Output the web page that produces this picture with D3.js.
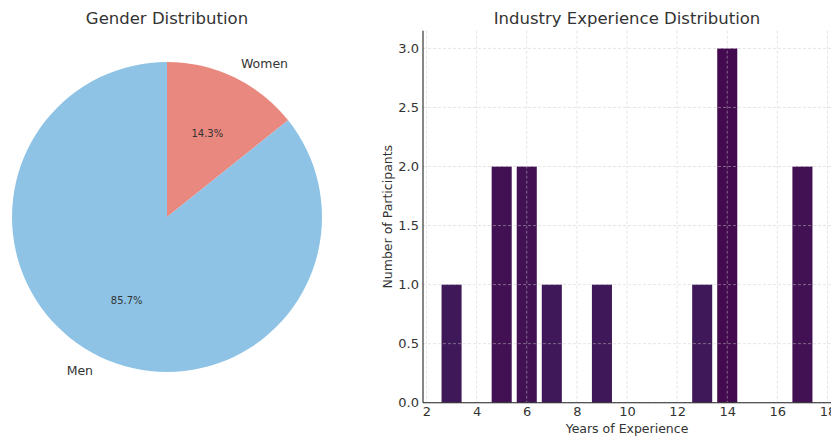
<!DOCTYPE html>
<html>
<head>
<meta charset="utf-8">
<script src="https://cdn.jsdelivr.net/npm/d3@7"></script>
<style>
  body { margin: 0; background: #fff; }
  svg { font-family: "DejaVu Sans", sans-serif; }
</style>
</head>
<body>
<div id="chart"></div>
<script>
// Gender pie data
const genderLabels = ['Men', 'Women'];
const genderCounts = [6, 1];
const genderColors = ['#8ec3e6', '#e9887f'];

// Experience histogram data
const years = [3, 5, 6, 7, 9, 13, 14, 17];
const participants = [1, 2, 2, 1, 1, 1, 3, 2];
const xTicks = [2, 4, 6, 8, 10, 12, 14, 16, 18];
const yTicks = [0, 0.5, 1, 1.5, 2, 2.5, 3];

const W = 831, H = 437;
const textColor = '#333';

const svg = d3.select('#chart').append('svg')
    .attr('width', W)
    .attr('height', H);

// ---- Pie ----
const cx = 167, cy = 217, R = 155;
const pieG = svg.append('g').attr('transform', `translate(${cx},${cy})`);

// women slice first from the top going clockwise, men fill the rest
const total = d3.sum(genderCounts);
const womenAngle = genderCounts[1] / total * 2 * Math.PI;
const slices = [
    { label: genderLabels[1], value: genderCounts[1], color: genderColors[1], start: 0, end: womenAngle },
    { label: genderLabels[0], value: genderCounts[0], color: genderColors[0], start: womenAngle, end: 2 * Math.PI }
];

const arc = d3.arc().innerRadius(0).outerRadius(R);
pieG.selectAll('path')
    .data(slices)
    .enter()
    .append('path')
    .attr('d', d => arc({ startAngle: d.start, endAngle: d.end }))
    .attr('fill', d => d.color);

slices.forEach(d => {
    const mid = (d.start + d.end) / 2;
    const sx = Math.sin(mid), sy = -Math.cos(mid);
    pieG.append('text')
        .attr('x', sx * R * 1.1)
        .attr('y', sy * R * 1.1)
        .attr('dy', '0.35em')
        .attr('text-anchor', sx > 0 ? 'start' : 'end')
        .style('font-size', '12.5px')
        .style('fill', textColor)
        .text(d.label);
    pieG.append('text')
        .attr('x', sx * R * 0.6)
        .attr('y', sy * R * 0.6)
        .attr('dy', '0.35em')
        .attr('text-anchor', 'middle')
        .style('font-size', '10px')
        .style('fill', textColor)
        .text((d.value / total * 100).toFixed(1) + '%');
});

svg.append('text')
    .attr('x', cx)
    .attr('y', 24)
    .attr('text-anchor', 'middle')
    .style('font-size', '16.5px')
    .style('fill', textColor)
    .text('Gender Distribution');

// ---- Bar chart ----
const plot = { left: 423, right: 831, top: 30.7, bottom: 402.7 };
const barW = 0.8;
const x = d3.scaleLinear()
    .domain([d3.min(years) - barW / 2 - 0.74, d3.max(years) + barW / 2 + 0.74])
    .range([plot.left, plot.right]);
const y = d3.scaleLinear()
    .domain([0, 3.15])
    .range([plot.bottom, plot.top]);

const barG = svg.append('g');
barG.selectAll('rect')
    .data(years)
    .enter()
    .append('rect')
    .attr('x', (d) => x(d - barW / 2))
    .attr('width', x(barW) - x(0))
    .attr('y', (d, i) => y(participants[i]))
    .attr('height', (d, i) => y(0) - y(participants[i]))
    .attr('fill', (d, i) => d3.interpolateRgb('#3e1858', '#440a4f')((participants[i] - 1) / 2));

// grid drawn over the bars, faint dashed
const grid = svg.append('g');
grid.selectAll('.gx')
    .data(xTicks)
    .enter()
    .append('line')
    .attr('x1', d => x(d)).attr('x2', d => x(d))
    .attr('y1', plot.top).attr('y2', plot.bottom)
    .attr('stroke', '#c8c8c8')
    .attr('stroke-opacity', 0.6)
    .attr('stroke-width', 0.8)
    .attr('stroke-dasharray', '3,2');
grid.selectAll('.gy')
    .data(yTicks)
    .enter()
    .append('line')
    .attr('x1', plot.left).attr('x2', plot.right)
    .attr('y1', d => y(d)).attr('y2', d => y(d))
    .attr('stroke', '#c8c8c8')
    .attr('stroke-opacity', 0.6)
    .attr('stroke-width', 0.8)
    .attr('stroke-dasharray', '3,2');

const xAxis = svg.append('g')
    .attr('transform', `translate(0,${plot.bottom})`)
    .call(d3.axisBottom(x).tickValues(xTicks).tickSize(0).tickPadding(4).tickFormat(d3.format('d')));
const yAxis = svg.append('g')
    .attr('transform', `translate(${plot.left},0)`)
    .call(d3.axisLeft(y).tickValues(yTicks).tickSize(0).tickPadding(4).tickFormat(d3.format('.1f')));

[xAxis, yAxis].forEach(a => {
    a.select('.domain').attr('stroke', '#222').attr('stroke-width', 1.1);
    a.selectAll('.tick text')
        .style('font-size', '13px')
        .style('font-family', '"DejaVu Sans", sans-serif')
        .attr('fill', textColor);
});
xAxis.select('.domain').attr('d', `M${plot.left},0H${plot.right}`);
yAxis.select('.domain').attr('d', `M0,${plot.top}V${plot.bottom}`);

svg.append('text')
    .attr('x', (plot.left + plot.right) / 2)
    .attr('y', 24)
    .attr('text-anchor', 'middle')
    .style('font-size', '16.5px')
    .style('fill', textColor)
    .text('Industry Experience Distribution');

svg.append('text')
    .attr('x', (plot.left + plot.right) / 2)
    .attr('y', 433)
    .attr('text-anchor', 'middle')
    .style('font-size', '12.5px')
    .style('fill', textColor)
    .text('Years of Experience');

svg.append('text')
    .attr('transform', `translate(392,${(plot.top + plot.bottom) / 2}) rotate(-90)`)
    .attr('text-anchor', 'middle')
    .style('font-size', '12.5px')
    .style('fill', textColor)
    .text('Number of Participants');
</script>
</body>
</html>
